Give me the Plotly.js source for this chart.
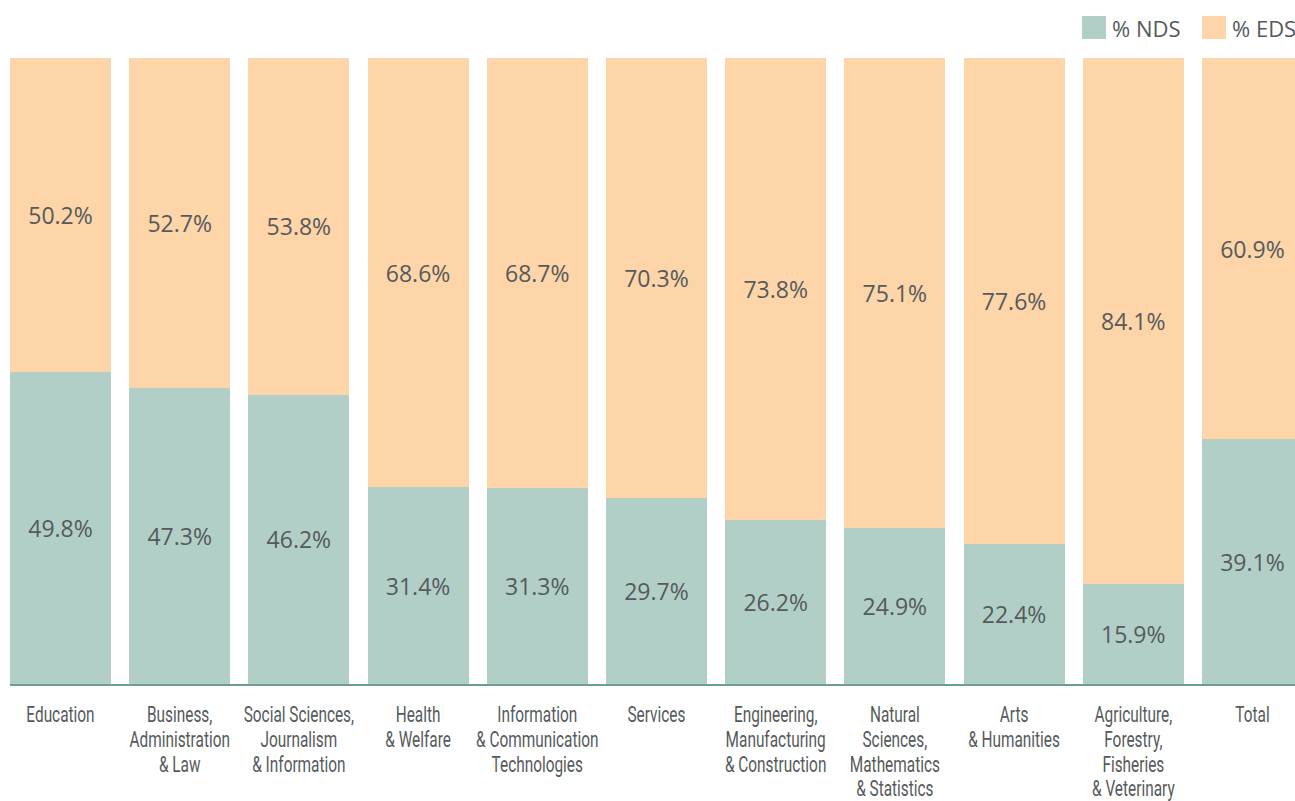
<!DOCTYPE html>
<html>
<head>
<meta charset="utf-8">
<script src="https://cdn.plot.ly/plotly-3.0.1.min.js"></script>
<style>html,body{margin:0;padding:0;background:#fff;}#chart{width:1295px;height:801px;}</style>
</head>
<body>
<div id="chart"></div>
<script>
const categories = [
  "Education",
  "Business,<br>Administration<br>& Law",
  "Social Sciences,<br>Journalism<br>& Information",
  "Health<br>& Welfare",
  "Information<br>& Communication<br>Technologies",
  "Services",
  "Engineering,<br>Manufacturing<br>& Construction",
  "Natural<br>Sciences,<br>Mathematics<br>& Statistics",
  "Arts<br>& Humanities",
  "Agriculture,<br>Forestry,<br>Fisheries<br>& Veterinary",
  "Total"
];
const ndsValues = [49.8, 47.3, 46.2, 31.4, 31.3, 29.7, 26.2, 24.9, 22.4, 15.9, 39.1];
const edsValues = [50.2, 52.7, 53.8, 68.6, 68.7, 70.3, 73.8, 75.1, 77.6, 84.1, 60.9];
const seriesNames = ["% NDS", "% EDS"];

const NDS_COLOR = "#b2cfc7";
const EDS_COLOR = "#fdd5a8";
const TEXT_COLOR = "#555a5c";
const idx = categories.map((_, i) => i);

const common = {
  type: "bar",
  x: idx,
  textposition: "inside",
  insidetextanchor: "middle",
  textfont: {family: "Open Sans, sans-serif", size: 23, color: TEXT_COLOR},
  hoverinfo: "skip",
  showlegend: false,
  constraintext: "none"
};

const traces = [
  Object.assign({}, common, {
    name: seriesNames[0], y: ndsValues,
    text: ndsValues.map(v => v.toFixed(1) + "%"),
    marker: {color: NDS_COLOR, line: {width: 0}}
  }),
  Object.assign({}, common, {
    name: seriesNames[1], y: edsValues,
    text: edsValues.map(v => v.toFixed(1) + "%"),
    marker: {color: EDS_COLOR, line: {width: 0}}
  })
];

const layout = {
  width: 1295, height: 801,
  margin: {l: 10, r: 0, t: 58, b: 117},
  paper_bgcolor: "#ffffff", plot_bgcolor: "#ffffff",
  barmode: "stack",
  bargap: 0.153,
  xaxis: {
    range: [-0.4235, 10.357],
    tickmode: "array", tickvals: idx, ticktext: categories,
    tickangle: 0,
    showgrid: false, zeroline: false,
    showline: true, linecolor: "#6a9e8e", linewidth: 2,
    ticks: "", ticklabelstandoff: 10,
    tickfont: {family: "Roboto, sans-serif", size: 22, color: TEXT_COLOR},
    fixedrange: true
  },
  yaxis: {
    range: [0, 100], visible: false, showgrid: false, zeroline: false, fixedrange: true
  },
  shapes: [
    {type: "rect", xref: "paper", yref: "paper", x0: 1072/1285, x1: 1096/1285, y0: (684-39)/626, y1: (684-16)/626, fillcolor: NDS_COLOR, line: {width: 0}},
    {type: "rect", xref: "paper", yref: "paper", x0: 1192/1285, x1: 1216/1285, y0: (684-39)/626, y1: (684-16)/626, fillcolor: EDS_COLOR, line: {width: 0}}
  ],
  annotations: [
    {xref: "paper", yref: "paper", x: 1100/1285, y: (684-28)/626, xanchor: "left", yanchor: "middle", text: seriesNames[0], showarrow: false, font: {family: "Open Sans, sans-serif", size: 22, color: TEXT_COLOR}},
    {xref: "paper", yref: "paper", x: 1220/1285, y: (684-28)/626, xanchor: "left", yanchor: "middle", text: seriesNames[1], showarrow: false, font: {family: "Open Sans, sans-serif", size: 22, color: TEXT_COLOR}}
  ]
};

Plotly.newPlot("chart", traces, layout, {displayModeBar: false, staticPlot: true}).then(function (gd) {
  // mimic the condensed typeface of the category labels: tighter lines, narrower glyphs
  const SX = 0.70;       // horizontal condensing
  const LS = 1.12;       // line spacing in em (Plotly default 1.3)
  gd.querySelectorAll("g.xtick text").forEach(function (t) {
    t.querySelectorAll("tspan.line").forEach(function (ts) {
      const dy = parseFloat(ts.getAttribute("dy") || "0");
      if (dy) ts.setAttribute("dy", (dy / 1.3 * LS) + "em");
    });
    const bb = t.getBBox();
    const cx = bb.x + bb.width / 2;
    const orig = t.getAttribute("transform") || "";
    t.setAttribute("transform", orig + " translate(" + cx + ",0) scale(" + SX + ",1) translate(" + (-cx) + ",0)");
  });
});
</script>
</body>
</html>
